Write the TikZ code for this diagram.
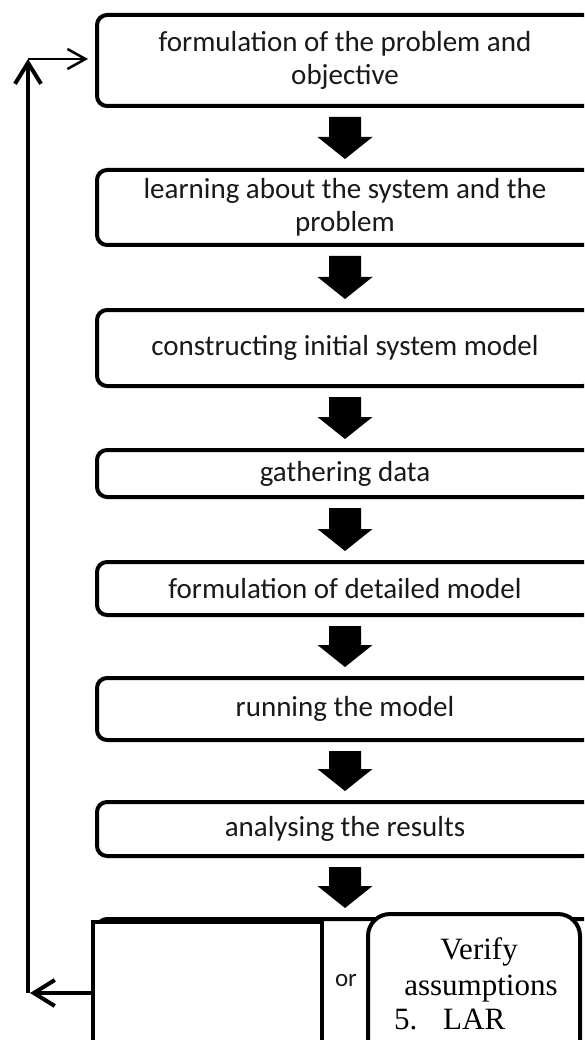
\documentclass[tikz,border=0pt]{standalone}
\usepackage{fontspec}
\setmainfont{Carlito}
\newfontfamily\timesfont{Liberation Serif}
\usetikzlibrary{arrows.meta,calc}

\begin{document}
\begin{tikzpicture}[
  x=1pt,y=1pt,
  stepbox/.style={draw,line width=4pt,rounded corners=10pt,fill=white,
                  minimum width=496pt,inner sep=0pt,align=center,
                  text=black!90,font=\fontsize{29}{33}\selectfont},
  plainbox/.style={draw,line width=4pt,fill=white,inner sep=0pt,
                   minimum height=180pt},
  serif/.style={font=\timesfont\fontsize{31}{35}\selectfont,inner sep=0pt},
  loopline/.style={line width=4pt},
  looparr/.style={loopline,-{Straight Barb[length=21pt,width=26pt]}},
  thinarr/.style={line width=2.5pt,-{Straight Barb[length=18pt,width=20pt]}}
]
  \useasboundingbox (0,0) rectangle (584,-1040);
  \clip (0,0) rectangle (584,-1040);

  % process steps
  \node[stepbox,minimum height=91pt] (b1) at (345,-60.5)
    {formulation of the problem and\\objective};
  \node[stepbox,minimum height=75pt] (b2) at (345,-207.5)
    {learning about the system and the\\problem};
  \node[stepbox,minimum height=76pt] (b3) at (345,-348)
    {constructing initial system model};
  \node[stepbox,minimum height=47pt] (b4) at (345,-473.5)
    {gathering data};
  \node[stepbox,minimum height=53pt] (b5) at (345,-588.5)
    {formulation of detailed model};
  \node[stepbox,minimum height=62pt] (b6) at (345,-709)
    {running the model};
  \node[stepbox,minimum height=54pt] (b7) at (345,-829)
    {analysing the results};

  % bottom: hidden box, choice and verify box
  \node[stepbox,minimum height=180pt] (decide) at (345,-1009) {};
  \node[plainbox,minimum width=229pt] (choice) at (207.5,-1012) {};
  \node[plainbox,rounded corners=22pt,minimum width=212pt] (verify)
    at (474,-1004) {};
  \node[font=\fontsize{25}{30}\selectfont,text=black!90,inner sep=0pt]
    (ortxt) at (346,-980) {or};
  \node[serif,anchor=base] (vline1) at (479,-959) {Verify};
  \node[serif,anchor=base] (vline2) at (481,-995) {assumptions};
  \node[serif,anchor=base west] (vline3) at (394,-1029)
    {\makebox[49pt][l]{5.}LAR};

  % block arrows
  \foreach \a/\b in {b1/b2,b2/b3,b3/b4,b4/b5,b5/b6,b6/b7,b7/decide}
    \fill ($(\a.south)+(-16,-9)$) -- ($(\a.south)+(16,-9)$)
      -- ($(\b.north)+(16,31)$) -- ($(\b.north)+(27.5,31)$)
      -- ($(\b.north)+(0,9)$) -- ($(\b.north)+(-27.5,31)$)
      -- ($(\b.north)+(-16,31)$) -- cycle;

  % feedback loop
  \coordinate (ret) at (28,-993);
  \coordinate (top) at (28,-59);
  \draw[looparr,shorten >=2pt] (choice.west |- ret) -- (ret);
  \draw[looparr] (ret) -- (top);
  \draw[thinarr,shorten >=7pt] (top) -- (b1.west |- top);
\end{tikzpicture}
\end{document}
